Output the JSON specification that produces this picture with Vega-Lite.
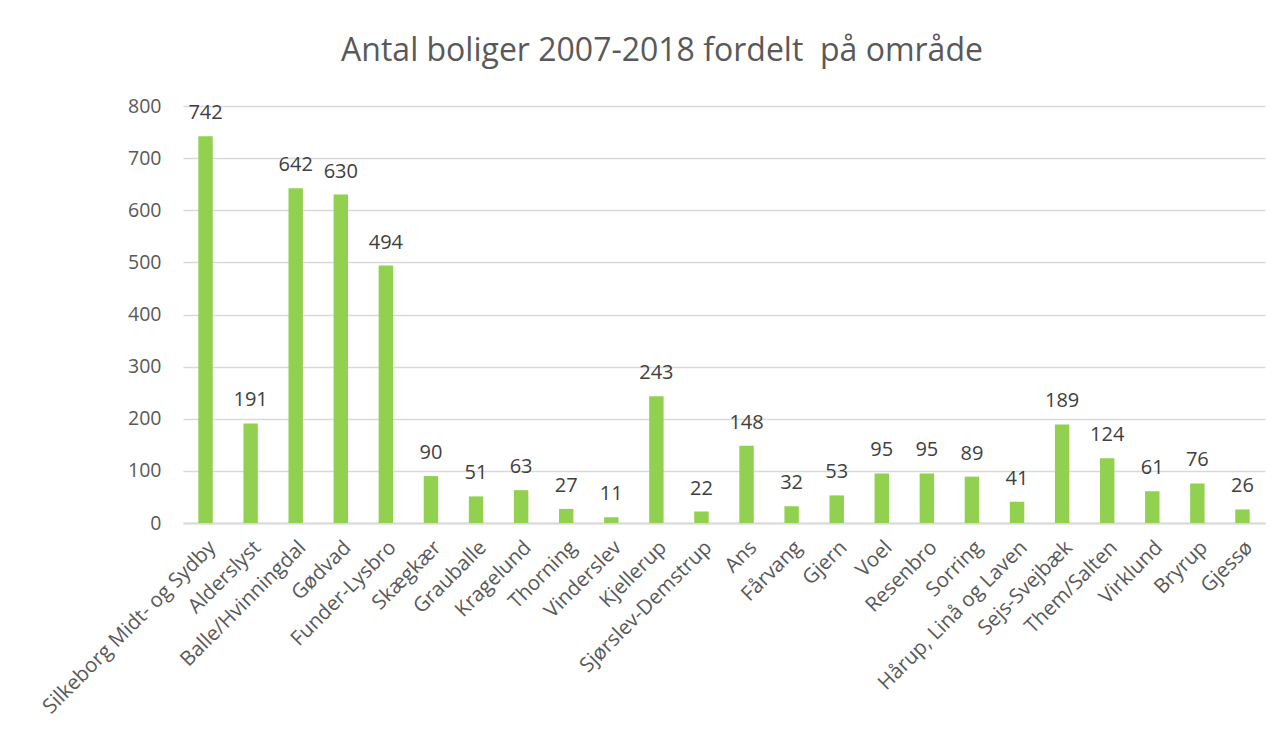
{
  "$schema": "https://vega.github.io/schema/vega-lite/v6.json",
  "width": 1082,
  "height": 417,
  "autosize": {"type": "none"},
  "padding": {"left": 183, "top": 106, "right": 19, "bottom": 219},
  "background": "white",
  "title": {
    "text": "Antal boliger 2007-2018 fordelt\u00a0 på område",
    "font": "Open Sans",
    "fontSize": 32,
    "fontWeight": "normal",
    "color": "#595959",
    "anchor": "middle",
    "dx": -62,
    "offset": 28
  },
  "data": {
    "values": [
      {"omraade": "Silkeborg Midt- og Sydby", "antal": 742},
      {"omraade": "Alderslyst", "antal": 191},
      {"omraade": "Balle/Hvinningdal", "antal": 642},
      {"omraade": "Gødvad", "antal": 630},
      {"omraade": "Funder-Lysbro", "antal": 494},
      {"omraade": "Skægkær", "antal": 90},
      {"omraade": "Grauballe", "antal": 51},
      {"omraade": "Kragelund", "antal": 63},
      {"omraade": "Thorning", "antal": 27},
      {"omraade": "Vinderslev", "antal": 11},
      {"omraade": "Kjellerup", "antal": 243},
      {"omraade": "Sjørslev-Demstrup", "antal": 22},
      {"omraade": "Ans", "antal": 148},
      {"omraade": "Fårvang", "antal": 32},
      {"omraade": "Gjern", "antal": 53},
      {"omraade": "Voel", "antal": 95},
      {"omraade": "Resenbro", "antal": 95},
      {"omraade": "Sorring", "antal": 89},
      {"omraade": "Hårup, Linå og Laven", "antal": 41},
      {"omraade": "Sejs-Svejbæk", "antal": 189},
      {"omraade": "Them/Salten", "antal": 124},
      {"omraade": "Virklund", "antal": 61},
      {"omraade": "Bryrup", "antal": 76},
      {"omraade": "Gjessø", "antal": 26}
    ]
  },
  "encoding": {
    "x": {
      "field": "omraade",
      "type": "nominal",
      "sort": null,
      "scale": {"paddingInner": 0.68, "paddingOuter": 0.34},
      "axis": {
        "title": null,
        "labelAngle": -45,
        "labelFont": "Open Sans",
        "labelFontSize": 20.5,
        "labelColor": "#595959",
        "labelPadding": 14,
        "ticks": false,
        "domainColor": "#d9d9d9",
        "domainWidth": 2,
        "labelLimit": 400
      }
    },
    "y": {
      "field": "antal",
      "type": "quantitative",
      "scale": {"domain": [0, 800]},
      "axis": {
        "title": null,
        "values": [0, 100, 200, 300, 400, 500, 600, 700, 800],
        "labelFont": "Open Sans",
        "labelFontSize": 19.5,
        "labelColor": "#595959",
        "labelPadding": 22,
        "ticks": false,
        "domain": false,
        "gridColor": "#d9d9d9",
        "gridWidth": 1.3
      }
    }
  },
  "layer": [
    {"mark": {"type": "bar", "color": "#92D050"}},
    {
      "mark": {
        "type": "text",
        "font": "Open Sans",
        "fontSize": 20,
        "color": "#404040",
        "baseline": "alphabetic",
        "dy": -17
      },
      "encoding": {"text": {"field": "antal", "type": "quantitative"}}
    }
  ],
  "config": {"view": {"stroke": null}}
}
